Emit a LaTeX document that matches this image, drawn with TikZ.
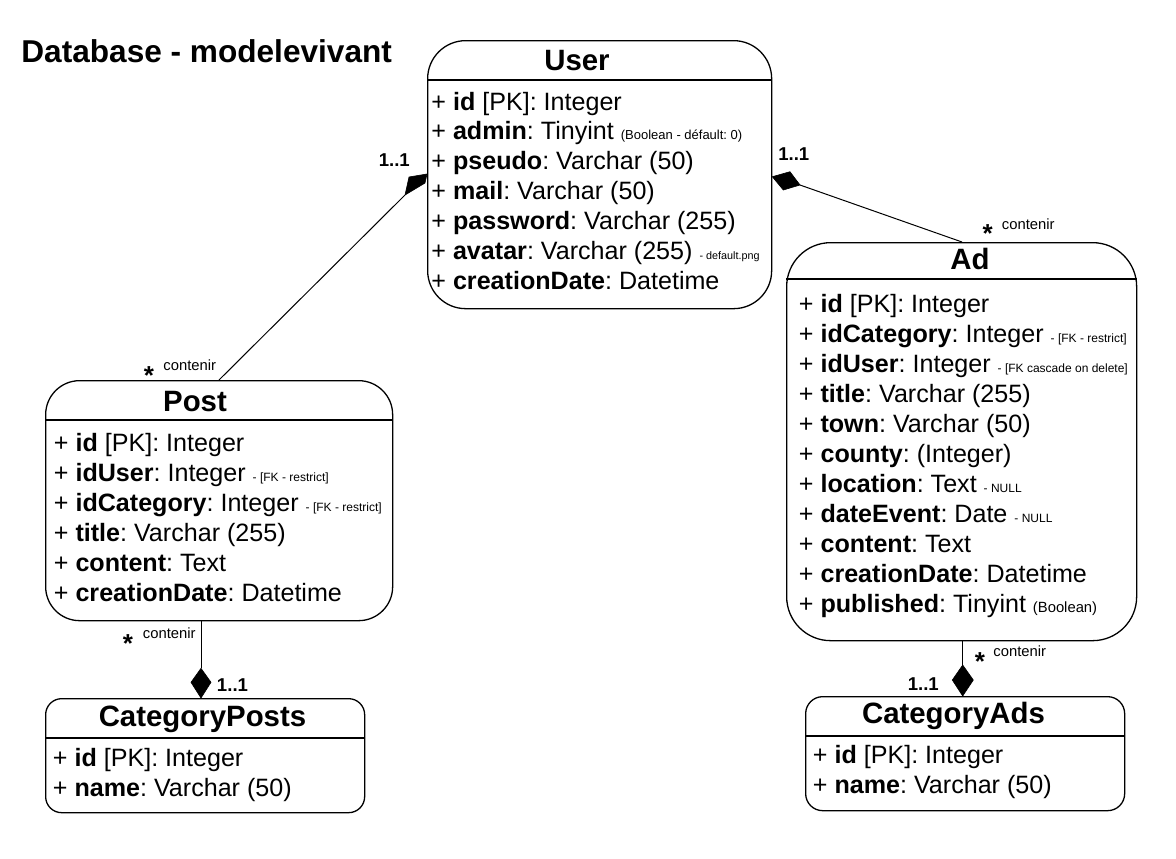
\documentclass[tikz,border=0pt]{standalone}
\usepackage{fontspec}
\setmainfont{Liberation Sans}
\usetikzlibrary{arrows.meta}
\frenchspacing
\newcommand\nt[2][6pt]{{\fontsize{#1}{7pt}\selectfont #2}}
\tikzset{
  box/.style={draw, line width=0.65pt, rounded corners=#1, inner sep=0pt, anchor=north west},
  divider/.style={line width=0.65pt},
  ttl/.style={font=\bfseries\fontsize{14.7pt}{16pt}\selectfont, inner sep=0pt, anchor=base},
  row/.style={font=\fontsize{12.55pt}{14pt}\selectfont, inner sep=0pt, anchor=base west},
  mult/.style={font=\bfseries\fontsize{9.3pt}{10pt}\selectfont, inner sep=0pt},
  star/.style={font=\bfseries\fontsize{13pt}{14pt}\selectfont, inner sep=0pt, anchor=base},
  role/.style={font=\fontsize{7.4pt}{8pt}\selectfont, inner sep=0pt, anchor=base west},
  conn/.style={line width=0.5pt},
  dia/.style={fill=black, draw=black, line width=0.3pt, line join=miter},
}
\begin{document}
\begin{tikzpicture}[x=0.5pt, y=-0.5pt]
\useasboundingbox (0,0) rectangle (1176,858);
\fill[white] (0,0) rectangle (1176,858);

% main title
\node[font=\bfseries\fontsize{15.8pt}{17pt}\selectfont, inner sep=0pt, anchor=base west] (maintitle) at (21,62.7) {Database - modelevivant};

% ---------- User ----------
\node[box=19pt, minimum width=172pt, minimum height=134pt] (user) at (427,40) {};
\draw[divider] (user.west |- 0,80) -- (user.east |- 0,80);
\node[ttl] (userT) at (577,70.7) {User};
\node[row] (u1) at (431,110.0) {+ \textbf{id} [PK]: Integer};
\node[row] (u2) at (431,139.8) {+ \textbf{admin}: Tinyint \nt[6.5pt]{(Boolean - défault: 0)}};
\node[row] (u3) at (431,169.7) {+ \textbf{pseudo}: Varchar (50)};
\node[row] (u4) at (431,199.5) {+ \textbf{mail}: Varchar (50)};
\node[row] (u5) at (431,229.4) {+ \textbf{password}: Varchar (255)};
\node[row] (u6) at (431,259.2) {+ \textbf{avatar}: Varchar (255) \nt[5.4pt]{- default.png}};
\node[row] (u7) at (431,289.0) {+ \textbf{creationDate}: Datetime};

% ---------- Ad ----------
\node[box=22pt, minimum width=175pt, minimum height=199pt] (ad) at (786,242) {};
\draw[divider] (ad.west |- 0,279) -- (ad.east |- 0,279);
\node[ttl] (adT) at (970,269.3) {Ad};
\node[row] (a1) at (798.5,312) {+ \textbf{id} [PK]: Integer};
\node[row] (a2) at (798.5,342) {+ \textbf{idCategory}: Integer \nt{- [FK - restrict]}};
\node[row] (a3) at (798.5,372) {+ \textbf{idUser}: Integer \nt{- [FK cascade on delete]}};
\node[row] (a4) at (798.5,402) {+ \textbf{title}: Varchar (255)};
\node[row] (a5) at (798.5,432) {+ \textbf{town}: Varchar (50)};
\node[row] (a6) at (798.5,462) {+ \textbf{county}: (Integer)};
\node[row] (a7) at (798.5,492) {+ \textbf{location}: Text \nt{- NULL}};
\node[row] (a8) at (798.5,522) {+ \textbf{dateEvent}: Date \nt{- NULL}};
\node[row] (a9) at (798.5,552) {+ \textbf{content}: Text};
\node[row] (a10) at (798.5,582) {+ \textbf{creationDate}: Datetime};
\node[row] (a11) at (798.5,612) {+ \textbf{published}: Tinyint \nt[7.4pt]{(Boolean)}};

% ---------- Post ----------
\node[box=17pt, minimum width=173.5pt, minimum height=120pt] (post) at (45,380) {};
\draw[divider] (post.west |- 0,420) -- (post.east |- 0,420);
\node[ttl] (postT) at (195,411.7) {Post};
\node[row] (p1) at (53.5,451.7) {+ \textbf{id} [PK]: Integer};
\node[row] (p2) at (53.5,481.7) {+ \textbf{idUser}: Integer \nt{- [FK - restrict]}};
\node[row] (p3) at (53.5,511.7) {+ \textbf{idCategory}: Integer \nt{- [FK - restrict]}};
\node[row] (p4) at (53.5,541.7) {+ \textbf{title}: Varchar (255)};
\node[row] (p5) at (53.5,571.7) {+ \textbf{content}: Text};
\node[row] (p6) at (53.5,601.7) {+ \textbf{creationDate}: Datetime};

% ---------- CategoryPosts ----------
\node[box=8pt, minimum width=159.5pt, minimum height=57pt] (catposts) at (45,698) {};
\draw[divider] (catposts.west |- 0,738) -- (catposts.east |- 0,738);
\node[ttl] (cpT) at (202.5,726) {CategoryPosts};
\node[row] (cp1) at (52.5,766.7) {+ \textbf{id} [PK]: Integer};
\node[row] (cp2) at (52.5,796) {+ \textbf{name}: Varchar (50)};

% ---------- CategoryAds ----------
\node[box=8.5pt, minimum width=159.5pt, minimum height=57pt] (catads) at (805,696) {};
\draw[divider] (catads.west |- 0,736) -- (catads.east |- 0,736);
\node[ttl] (caT) at (953.5,723.3) {CategoryAds};
\node[row] (ca1) at (812.5,763.3) {+ \textbf{id} [PK]: Integer};
\node[row] (ca2) at (812.5,793.3) {+ \textbf{name}: Varchar (50)};

% ---------- connectors ----------
% User -- Post
\coordinate (uL) at (user.west |- 0,174);
\coordinate (d1) at (405,195);
\coordinate (postTop) at (post.north -| 219,0);
\fill[dia] (uL) -- (425,183) -- (d1) -- (409,177) -- cycle;
\draw[conn] (d1) -- (postTop);
\node[mult] (m1) at (394.3,160) {1..1};
\node[star] (s1) at (149,384.8) {*};
\node[role] (r1) at (163,370.7) {contenir};

% User -- Ad
\coordinate (uR) at (user.east |- 0,176.7);
\coordinate (d2) at (800,185);
\coordinate (adTop) at (ad.north -| 962,0);
\fill[dia] (uR) -- (790,171.7) -- (d2) -- (783.3,190) -- cycle;
\draw[conn] (d2) -- (adTop);
\node[mult] (m2) at (793.8,154) {1..1};
\node[star] (s2) at (987.7,242.8) {*};
\node[role] (r2) at (1001.5,229.3) {contenir};

% Post -- CategoryPosts
\coordinate (pB) at (post.south -| 201,0);
\coordinate (cpTop) at (catposts.north -| 201,0);
\coordinate (d3) at (201,668.3);
\fill[dia] (cpTop) -- (211,682.3) -- (d3) -- (191,682.3) -- cycle;
\draw[conn] (pB) -- (d3);
\node[mult] (m3) at (232.5,685.5) {1..1};
\node[star] (s3) at (128,652.8) {*};
\node[role] (r3) at (142.5,638.3) {contenir};

% Ad -- CategoryAds
\coordinate (aB) at (ad.south -| 962.7,0);
\coordinate (caTop) at (catads.north -| 962.7,0);
\coordinate (d4) at (962.7,665);
\fill[dia] (caTop) -- (973.3,680) -- (d4) -- (952.3,680) -- cycle;
\draw[conn] (aB) -- (d4);
\node[mult] (m4) at (923.3,683.7) {1..1};
\node[star] (s4) at (980,670.3) {*};
\node[role] (r4) at (993,656) {contenir};
\end{tikzpicture}
\end{document}
